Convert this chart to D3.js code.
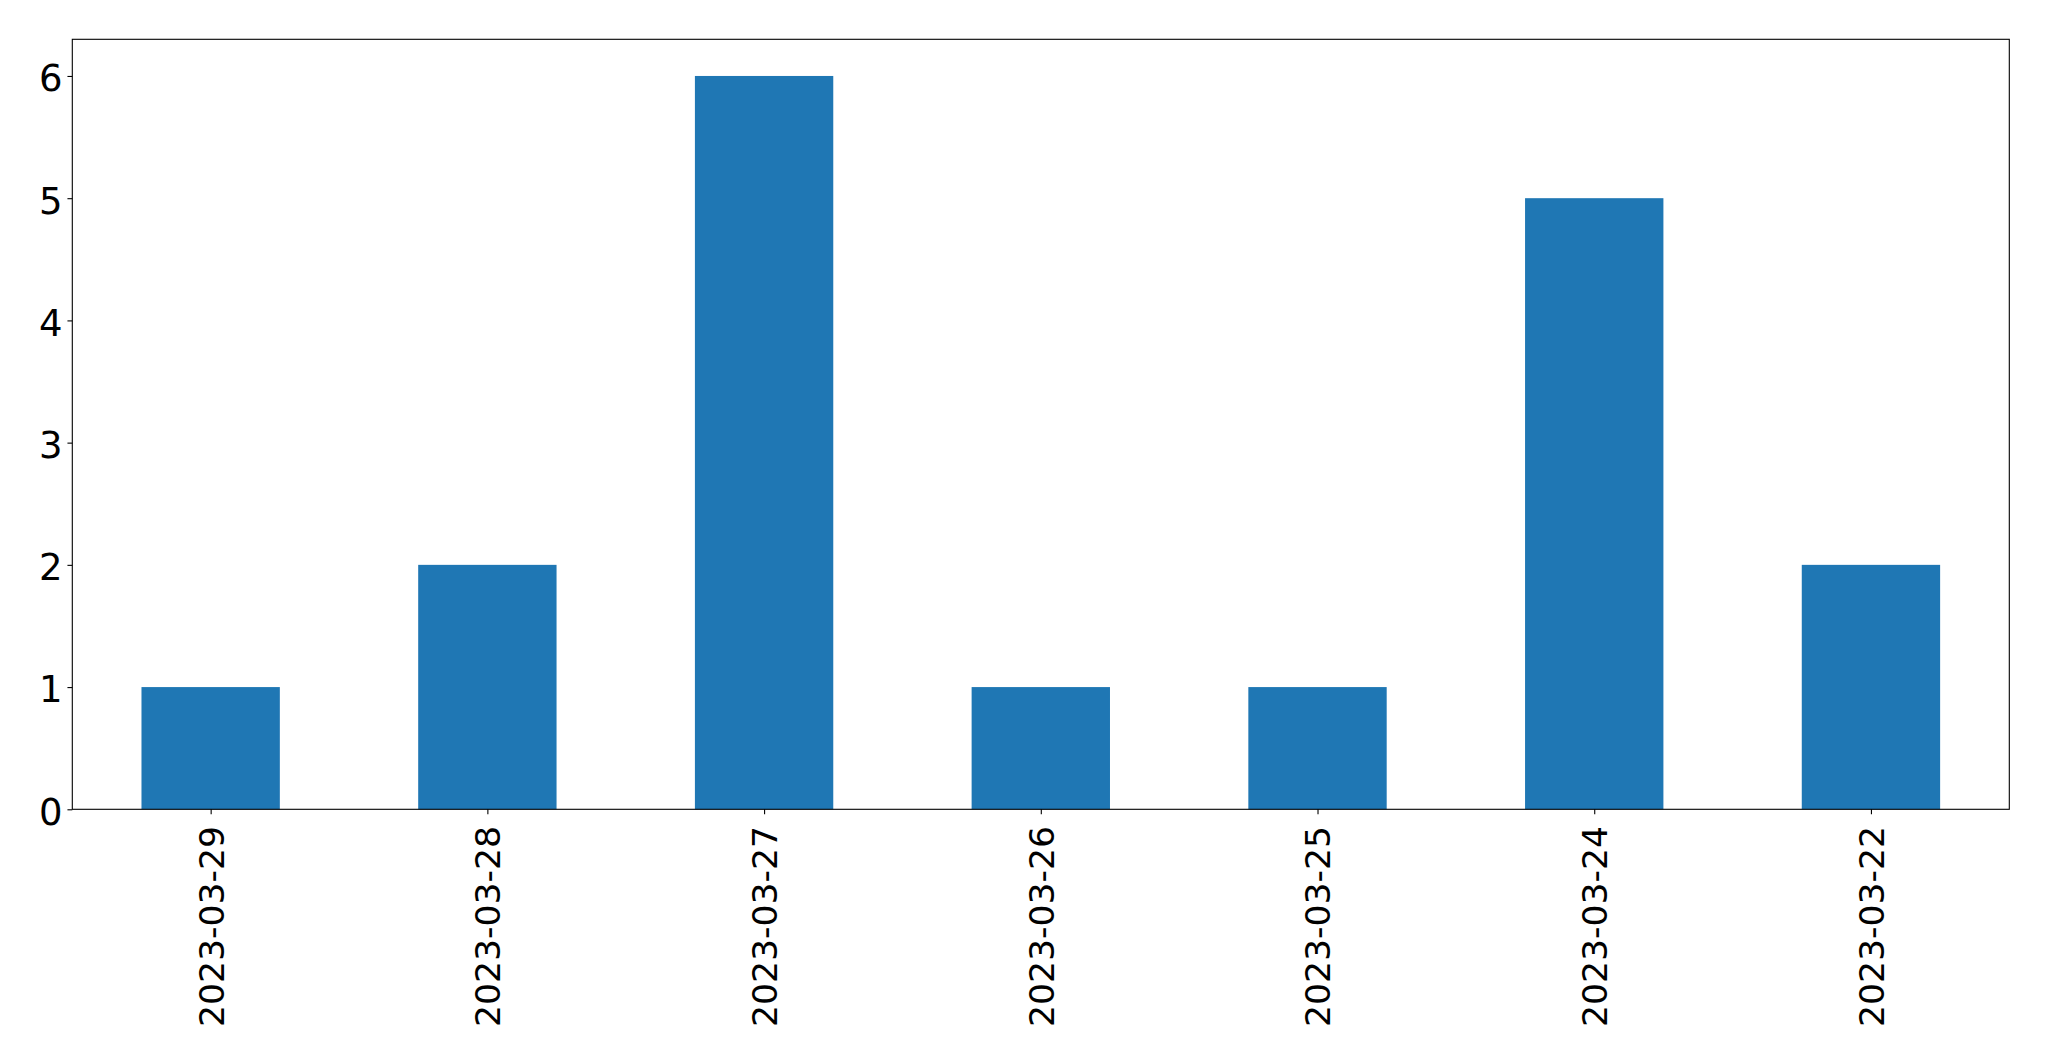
<!DOCTYPE html>
<html>
<head>
<meta charset="utf-8">
<script src="https://cdn.jsdelivr.net/npm/d3@7"></script>
<style>
html, body { margin: 0; padding: 0; background: #fff; }
svg { display: block; }
</style>
</head>
<body>
<script>
const categories = ["2023-03-29", "2023-03-28", "2023-03-27", "2023-03-26", "2023-03-25", "2023-03-24", "2023-03-22"];
const values = [1, 2, 6, 1, 1, 5, 2];
const yTicks = [0, 1, 2, 3, 4, 5, 6];

(function () {
const W = 2049, H = 1061;
const mLeft = 72.3, mRight = 2009.3, mTop = 39.3, mBottom = 809.3;
const xFont = 34.6, yFont = 37;
const tickLen = 4.86, pad = 4.86;

const svg = d3.select("body").append("svg").attr("width", W).attr("height", H);

const x = d3.scaleLinear().domain([-0.5, categories.length - 0.5]).range([mLeft, mRight]);
const y = d3.scaleLinear().domain([0, d3.max(values) * 1.05]).range([mBottom, mTop]);

// bars
svg.append("g").selectAll("rect").data(values).join("rect")
  .attr("x", (d, i) => x(i - 0.25))
  .attr("width", (d, i) => x(i + 0.25) - x(i - 0.25))
  .attr("y", d => y(d))
  .attr("height", d => y(0) - y(d))
  .attr("fill", "#1f77b4");

// y axis
const yAxis = d3.axisLeft(y).tickValues(yTicks).tickFormat(d3.format("d")).tickSize(tickLen).tickPadding(pad);
const gy = svg.append("g").attr("transform", `translate(${mLeft},0)`).call(yAxis);
gy.select(".domain").remove();
gy.selectAll("line").attr("stroke", "#000").attr("stroke-width", 1.1);
gy.selectAll("text").attr("font-family", "DejaVu Sans").attr("font-size", yFont).attr("fill", "#000").attr("dy", "0.4em");

// x axis
const xAxis = d3.axisBottom(x).tickValues(d3.range(categories.length)).tickFormat(i => categories[i]).tickSize(tickLen).tickPadding(pad);
const gx = svg.append("g").attr("transform", `translate(0,${mBottom})`).call(xAxis);
gx.select(".domain").remove();
gx.selectAll("line").attr("stroke", "#000").attr("stroke-width", 1.1);
gx.selectAll("text")
  .attr("font-family", "DejaVu Sans").attr("font-size", xFont).attr("fill", "#000")
  .attr("transform", `translate(0, ${tickLen + pad + 7}) rotate(-90)`)
  .attr("x", 0).attr("y", 0).attr("dy", "0.36em")
  .attr("text-anchor", "end");

// frame
svg.append("rect")
  .attr("x", mLeft).attr("y", mTop)
  .attr("width", mRight - mLeft).attr("height", mBottom - mTop)
  .attr("fill", "none").attr("stroke", "#000").attr("stroke-width", 1.1);
})();
</script>
</body>
</html>
